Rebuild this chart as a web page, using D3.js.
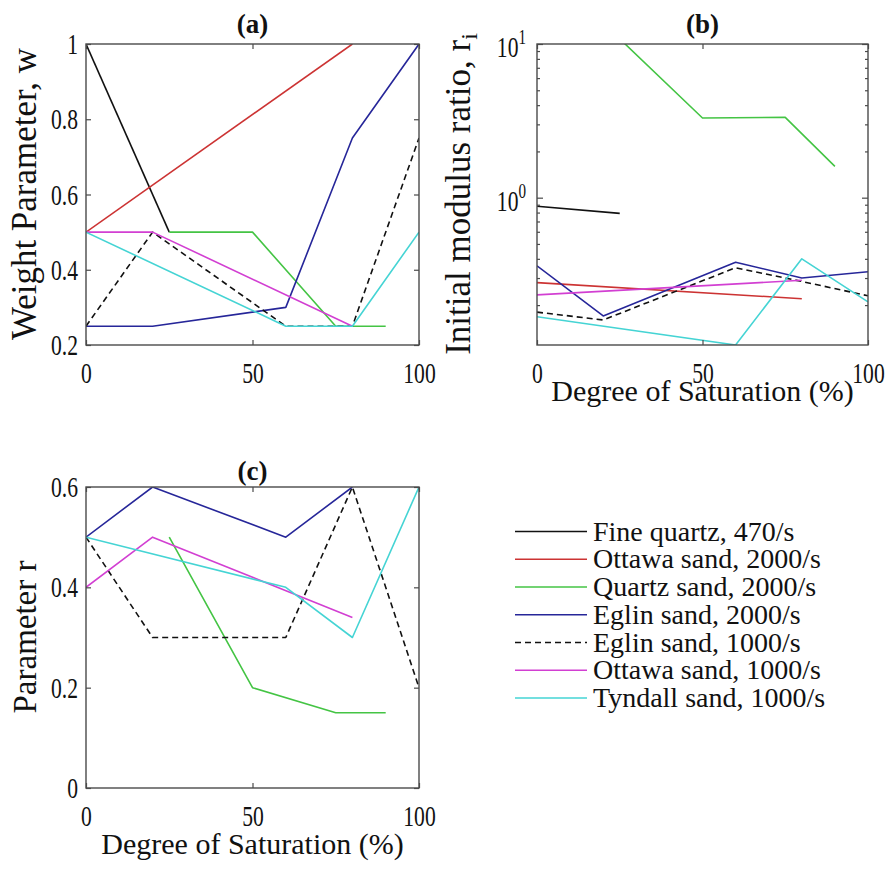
<!DOCTYPE html>
<html>
<head>
<meta charset="utf-8">
<script src="https://cdn.jsdelivr.net/npm/d3@7"></script>
<style>
  body { margin: 0; background: #fff; }
  svg text { font-family: "Liberation Serif", "Times New Roman", serif; fill: #111; }
</style>
</head>
<body>
<svg id="fig" width="890" height="877"></svg>
<script>
// ---- Series (degree of saturation %, value) ----
const seriesLabels = [
  "Fine quartz, 470/s",
  "Ottawa sand, 2000/s",
  "Quartz sand, 2000/s",
  "Eglin sand, 2000/s",
  "Eglin sand, 1000/s",
  "Ottawa sand, 1000/s",
  "Tyndall sand, 1000/s"
];

// (a) weight parameter w
const wFineQuartz470 = [[0, 1], [25, 0.5]];
const wOttawa2000    = [[0, 0.5], [80, 1]];
const wQuartz2000    = [[25, 0.5], [50, 0.5], [75, 0.25], [90, 0.25]];
const wEglin2000     = [[0, 0.25], [20, 0.25], [60, 0.3], [80, 0.75], [100, 1]];
const wEglin1000     = [[0, 0.25], [20, 0.5], [60, 0.25], [80, 0.25], [100, 0.75]];
const wOttawa1000    = [[0, 0.5], [20, 0.5], [80, 0.25]];
const wTyndall1000   = [[0, 0.5], [60, 0.25], [80, 0.25], [100, 0.5]];

// (b) initial modulus ratio r_i
const riFineQuartz470 = [[0, 0.88], [25, 0.79]];
const riOttawa2000    = [[0, 0.28], [80, 0.22]];
const riQuartz2000    = [[25, 10.8], [50, 3.3], [75, 3.33], [90, 1.6]];
const riEglin2000     = [[0, 0.36], [20, 0.17], [60, 0.38], [80, 0.30], [100, 0.33]];
const riEglin1000     = [[0, 0.18], [20, 0.16], [60, 0.35], [80, 0.285], [100, 0.23]];
const riOttawa1000    = [[0, 0.233], [80, 0.29]];
const riTyndall1000   = [[0, 0.168], [60, 0.11], [80, 0.40], [100, 0.21]];

// (c) parameter r
const rQuartz2000  = [[25, 0.5], [50, 0.2], [75, 0.15], [90, 0.15]];
const rEglin2000   = [[0, 0.5], [20, 0.6], [60, 0.5], [80, 0.6]];
const rEglin1000   = [[0, 0.5], [20, 0.3], [60, 0.3], [80, 0.6], [100, 0.2]];
const rOttawa1000  = [[0, 0.4], [20, 0.5], [80, 0.34]];
const rTyndall1000 = [[0, 0.5], [60, 0.4], [80, 0.3], [100, 0.6]];

// ---- Tick values and domains ----
const satTicks   = [0, 50, 100];
const wTicks     = [0.2, 0.4, 0.6, 0.8, 1];
const rTicks     = [0, 0.2, 0.4, 0.6];
const riMajor    = [1, 10];
const riMinor    = [0.2, 0.3, 0.4, 0.5, 0.6, 0.7, 0.8, 0.9, 2, 3, 4, 5, 6, 7, 8, 9];
const wDomain    = [0.2, 1];
const rDomain    = [0, 0.6];
const riDomain   = [0.11, 10];
const satDomain  = [0, 100];

// ---- Line styles, one per legend entry ----
const lineStyles = [
  { color: "#111111", dash: null },
  { color: "#cc3333", dash: null },
  { color: "#44c444", dash: null },
  { color: "#262699", dash: null },
  { color: "#111111", dash: "6,4" },
  { color: "#d23fd2", dash: null },
  { color: "#45d4d4", dash: null }
];

const svg = d3.select("#fig");
const tickFont = 30;      // tick numbers are set tall and narrow
const tickSqueeze = 0.72; // horizontal condensing of tick numbers
const axisColor = "#4a4a4a";

function makePanel({ left, right, top, bottom, yScale, yTicks, series, id, yLog }) {
  const x = d3.scaleLinear().domain(satDomain).range([left, right]);
  const y = yScale.range([bottom, top]);
  const g = svg.append("g");

  g.append("clipPath").attr("id", id).append("rect")
    .attr("x", left).attr("y", top).attr("width", right - left).attr("height", bottom - top);

  const line = d3.line().x(d => x(d[0])).y(d => y(d[1]));
  const lines = g.append("g").attr("clip-path", `url(#${id})`);
  series.forEach(([data, idx]) => {
    const st = lineStyles[idx];
    lines.append("path").datum(data)
      .attr("d", line)
      .attr("fill", "none")
      .attr("stroke", st.color)
      .attr("stroke-width", 1.6)
      .attr("stroke-linejoin", "round")
      .attr("stroke-dasharray", st.dash);
  });

  // Axes with inward ticks on all four sides
  const ax = (sel) => { sel.select(".domain").remove(); sel.selectAll("line").attr("stroke", axisColor).attr("stroke-width", 1.2); };
  const squeeze = (sel) => sel.selectAll("text")
    .attr("font-size", tickFont).attr("fill", "#111")
    .attr("transform", `scale(${tickSqueeze},1)`);

  g.append("g").attr("transform", `translate(0,${bottom})`)
    .call(d3.axisBottom(x).tickValues(satTicks).tickSize(-5).tickPadding(17).tickFormat(d3.format("d")))
    .call(ax).call(squeeze);
  g.append("g").attr("transform", `translate(0,${top})`)
    .call(d3.axisTop(x).tickValues(satTicks).tickSize(-5).tickFormat(""))
    .call(ax);

  if (!yLog) {
    g.append("g").attr("transform", `translate(${left},0)`)
      .call(d3.axisLeft(y).tickValues(yTicks).tickSize(-5).tickPadding(8 / tickSqueeze).tickFormat(d3.format("~g")))
      .call(ax).call(squeeze);
    g.append("g").attr("transform", `translate(${right},0)`)
      .call(d3.axisRight(y).tickValues(yTicks).tickSize(-5).tickFormat(""))
      .call(ax);
  } else {
    g.append("g").attr("transform", `translate(${left},0)`)
      .call(d3.axisLeft(y).tickValues(riMajor).tickSize(-6).tickFormat(""))
      .call(ax);
    g.append("g").attr("transform", `translate(${left},0)`)
      .call(d3.axisLeft(y).tickValues(riMinor).tickSize(-3).tickFormat(""))
      .call(ax);
    g.append("g").attr("transform", `translate(${right},0)`)
      .call(d3.axisRight(y).tickValues(riMajor).tickSize(-6).tickFormat(""))
      .call(ax);
    g.append("g").attr("transform", `translate(${right},0)`)
      .call(d3.axisRight(y).tickValues(riMinor).tickSize(-3).tickFormat(""))
      .call(ax);
    // 10^k labels
    riMajor.forEach(v => {
      const t = g.append("text")
        .attr("transform", `translate(${left - 11},${y(v) + 13}) scale(${tickSqueeze},1)`)
        .attr("text-anchor", "end").attr("font-size", tickFont);
      t.append("tspan").text("10");
      t.append("tspan").attr("dy", -13).attr("font-size", 21).text(String(Math.round(Math.log10(v))));
    });
  }

  g.append("rect")
    .attr("x", left).attr("y", top).attr("width", right - left).attr("height", bottom - top)
    .attr("fill", "none").attr("stroke", axisColor).attr("stroke-width", 1.4);

  return { x, y, g };
}

// (a)
makePanel({
  left: 86, right: 419, top: 44, bottom: 345,
  yScale: d3.scaleLinear().domain(wDomain), yTicks: wTicks, id: "clipA",
  series: [[wFineQuartz470, 0], [wOttawa2000, 1], [wQuartz2000, 2], [wEglin2000, 3],
           [wEglin1000, 4], [wOttawa1000, 5], [wTyndall1000, 6]]
});
// (b)
makePanel({
  left: 537, right: 868, top: 44, bottom: 345,
  yScale: d3.scaleLog().domain(riDomain), yLog: true, id: "clipB",
  series: [[riFineQuartz470, 0], [riOttawa2000, 1], [riQuartz2000, 2], [riEglin2000, 3],
           [riEglin1000, 4], [riOttawa1000, 5], [riTyndall1000, 6]]
});
// (c)
makePanel({
  left: 86, right: 419, top: 487, bottom: 788,
  yScale: d3.scaleLinear().domain(rDomain), yTicks: rTicks, id: "clipC",
  series: [[rQuartz2000, 2], [rEglin2000, 3], [rEglin1000, 4], [rOttawa1000, 5], [rTyndall1000, 6]]
});

// Panel titles
[["(a)", 252.5, 33], ["(b)", 702.5, 33], ["(c)", 252.5, 480]].forEach(([s, cx, by]) => {
  svg.append("text").attr("x", cx).attr("y", by).attr("text-anchor", "middle")
    .attr("font-size", 27).attr("font-weight", "bold").text(s);
});

// Axis titles
svg.append("text").attr("transform", "translate(36,194) rotate(-90)")
  .attr("text-anchor", "middle").attr("font-size", 35).text("Weight Parameter, w");
const riLab = svg.append("text").attr("transform", "translate(470,194) rotate(-90)")
  .attr("text-anchor", "middle").attr("font-size", 35);
riLab.append("tspan").text("Initial modulus ratio, r");
riLab.append("tspan").attr("font-size", 24).attr("dy", 7).text("i");
svg.append("text").attr("transform", "translate(36,637) rotate(-90)")
  .attr("text-anchor", "middle").attr("font-size", 33).text("Parameter r");
svg.append("text").attr("x", 702.5).attr("y", 401).attr("text-anchor", "middle")
  .attr("font-size", 30).text("Degree of Saturation (%)");
svg.append("text").attr("x", 252.5).attr("y", 854).attr("text-anchor", "middle")
  .attr("font-size", 30).text("Degree of Saturation (%)");

// Legend
const legendRow = d3.scaleLinear().domain([0, 6]).range([531.5, 698]);
seriesLabels.forEach((name, i) => {
  const st = lineStyles[i];
  const yy = legendRow(i);
  svg.append("line").attr("x1", 515).attr("x2", 587).attr("y1", yy).attr("y2", yy)
    .attr("stroke", st.color).attr("stroke-width", 1.6).attr("stroke-dasharray", st.dash);
  svg.append("text").attr("x", 593).attr("y", yy + 9).attr("font-size", 28).text(name);
});
</script>
</body>
</html>
